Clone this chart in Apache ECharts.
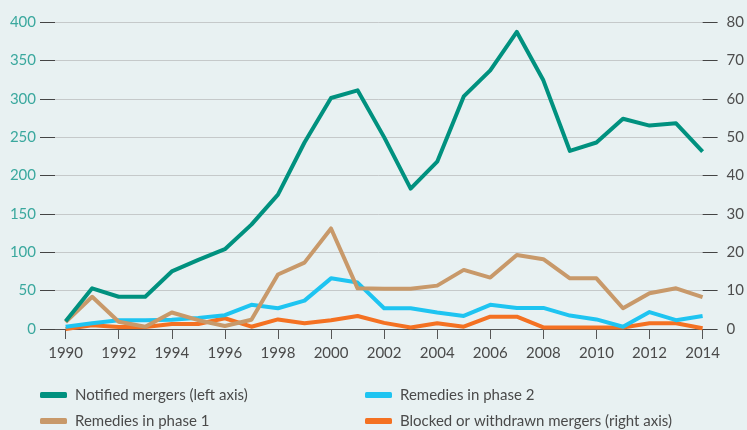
<!DOCTYPE html>
<html>
<head>
<meta charset="utf-8">
<script src="https://cdn.jsdelivr.net/npm/echarts@6/dist/echarts.min.js"></script>
<style>
  html, body { margin: 0; padding: 0; background: #e8f1f2; }
  #chart { width: 747px; height: 430px; }
</style>
</head>
<body>
<div id="chart"></div>
<script>
// values
var years = [1990, 1991, 1992, 1993, 1994, 1995, 1996, 1997, 1998, 1999, 2000, 2001, 2002,
             2003, 2004, 2005, 2006, 2007, 2008, 2009, 2010, 2011, 2012, 2013, 2014];
var tickYears = [1990, 1992, 1994, 1996, 1998, 2000, 2002, 2004, 2006, 2008, 2010, 2012, 2014];
// left axis
var notified = [10, 53, 42, 42, 75, 90, 104, 136, 175, 243, 301, 311, 250,
                183, 218, 303, 337, 387, 324, 232, 243, 274, 265, 268, 231];
// right axis
var phase1 = [1.8, 8.4, 1.9, 0.6, 4.3, 2.3, 0.8, 2.4, 14.2, 17.3, 26.2, 10.6, 10.5,
              10.5, 11.3, 15.4, 13.4, 19.3, 18.2, 13.2, 13.2, 5.4, 9.3, 10.6, 8.3];
var phase2 = [0.6, 1.5, 2.3, 2.3, 2.4, 2.9, 3.6, 6.3, 5.4, 7.4, 13.2, 12.1, 5.4,
              5.4, 4.3, 3.4, 6.3, 5.5, 5.5, 3.5, 2.5, 0.6, 4.4, 2.3, 3.4];
var blocked = [0, 1, 0.5, 0.5, 1.3, 1.3, 2.8, 0.6, 2.5, 1.5, 2.3, 3.4, 1.6,
               0.4, 1.5, 0.6, 3.2, 3.2, 0.4, 0.4, 0.4, 0.4, 1.5, 1.5, 0.2];

var names = ['Notified mergers (left axis)', 'Remedies in phase 2',
             'Remedies in phase 1', 'Blocked or withdrawn mergers (right axis)'];

function pairs(vals) {
  return years.map(function (y, i) { return [y, vals[i]]; });
}

var font = 'Lato';

function lineSeries(name, vals, color, yIdx, z) {
  return {
    name: name,
    type: 'line',
    yAxisIndex: yIdx,
    data: pairs(vals),
    symbol: 'none',
    z: z,
    lineStyle: { color: color, width: 4, join: 'round' },
    itemStyle: { color: color }
  };
}

var legendBase = {
  orient: 'vertical',
  top: 386,
  padding: 0,
  itemWidth: 27,
  itemHeight: 6,
  itemGap: 8,
  icon: 'roundRect',
  textStyle: { fontFamily: font, fontSize: 15, color: '#4a4a4a', lineHeight: 18, padding: [0, 0, 0, 3] }
};

var chart = echarts.init(document.getElementById('chart'));
chart.setOption({
  backgroundColor: '#e8f1f2',
  animation: false,
  grid: { left: 55, right: 41, top: 22, bottom: 101 },
  legend: [
    Object.assign({}, legendBase, { left: 40, data: [names[0], names[2]] }),
    Object.assign({}, legendBase, { left: 365, data: [names[1], names[3]] })
  ],
  xAxis: {
    type: 'value',
    min: 1989.6,
    max: 2014,
    splitLine: { show: false },
    axisLine: { show: true, lineStyle: { color: '#555', width: 1 } },
    axisTick: { show: true, length: 10, customValues: tickYears, lineStyle: { color: '#555' } },
    axisLabel: {
      customValues: tickYears,
      formatter: function (v) { return String(v); },
      margin: 17,
      color: '#4a4a4a',
      fontFamily: font,
      fontSize: 15
    }
  },
  yAxis: [
    {
      type: 'value',
      min: 0, max: 400, interval: 50,
      axisLine: { show: false },
      axisTick: { show: true, length: 15, lineStyle: { color: '#444' } },
      axisLabel: { margin: 19, color: '#3aa89e', fontFamily: font, fontSize: 15 },
      splitLine: { lineStyle: { color: '#c5c9ca', width: 1 } }
    },
    {
      type: 'value',
      min: 0, max: 80, interval: 10,
      position: 'right',
      axisLine: { show: false },
      axisTick: { show: true, length: 15, lineStyle: { color: '#444' } },
      axisLabel: { margin: 24, color: '#4d4d4d', fontFamily: font, fontSize: 15 },
      splitLine: { show: false }
    }
  ],
  series: [
    lineSeries(names[3], blocked, '#f47122', 1, 2),
    lineSeries(names[1], phase2, '#1ec4f1', 1, 3),
    lineSeries(names[2], phase1, '#c8996a', 1, 4),
    lineSeries(names[0], notified, '#00917f', 0, 5)
  ]
});
</script>
</body>
</html>
